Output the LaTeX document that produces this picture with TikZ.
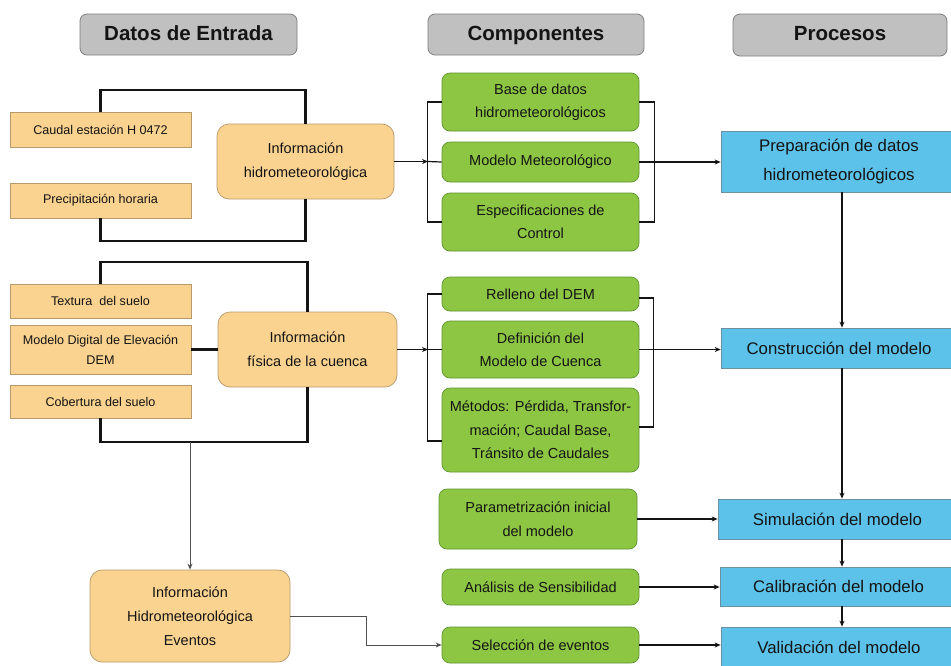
\documentclass[tikz,border=0pt]{standalone}
\usepackage{fontspec}
\setmainfont{Liberation Sans}
\usetikzlibrary{arrows.meta}
\definecolor{hdrfill}{HTML}{C0C0C0}
\definecolor{hdrline}{HTML}{7F7F7F}
\definecolor{orfill}{HTML}{FBD390}
\definecolor{orline}{HTML}{B8996A}
\definecolor{grfill}{HTML}{8DC643}
\definecolor{grline}{HTML}{5E962E}
\definecolor{blfill}{HTML}{5CC2E9}
\definecolor{blline}{HTML}{6E8FA0}
\definecolor{txt}{HTML}{141414}
\definecolor{wire}{HTML}{141414}
\definecolor{thinwire}{HTML}{505050}
\tikzset{
  base/.style={draw, inner sep=0pt, align=center, text=txt},
  hdr/.style={base, fill=hdrfill, draw=hdrline, line width=0.8pt, rounded corners=7pt,
    text height=15pt, text depth=4pt,
    font=\fontsize{20.5}{24}\selectfont\bfseries},
  obox/.style={base, fill=orfill, draw=orline, line width=0.7pt,
    font=\fontsize{12.6}{20}\selectfont},
  oinfo/.style={obox, rounded corners=12pt, font=\fontsize{14.5}{24}\selectfont},
  gbox/.style={base, fill=grfill, draw=grline, line width=0.7pt, rounded corners=8pt,
    font=\fontsize{14.5}{23.5}\selectfont},
  bbox/.style={base, fill=blfill, draw=blline, line width=0.7pt,
    font=\fontsize{16.8}{29}\selectfont},
  wire/.style={draw=wire, line width=2.2pt},
  branch/.style={draw=wire, line width=1.2pt},
  flow/.style={draw=wire, line width=1.6pt, -{Stealth[length=6pt,width=5pt]}},
  thinflow/.style={draw=thinwire, line width=0.9pt, -{Stealth[length=6pt,width=5pt]}},
}
\begin{document}
\begin{tikzpicture}[x=1pt, y=-1pt]
\useasboundingbox (0,0) rectangle (951,665);
\fill[white] (0,0) rectangle (951,665);

% column headers
\node[hdr, minimum width=217pt, minimum height=41pt] (hDatos) at (188.5,34.5) {Datos de Entrada};
\node[hdr, minimum width=216pt, minimum height=41pt] (hComp) at (536,34.5) {Componentes};
\node[hdr, minimum width=214pt, minimum height=42pt] (hProc) at (840,35) {Procesos};

% input data
\node[obox, minimum width=181pt, minimum height=35pt] (caudal) at (100.5,129.5) {Caudal estación H 0472};
\node[obox, minimum width=181pt, minimum height=35pt] (precip) at (100.5,200.5) {Precipitación horaria};
\node[oinfo, minimum width=177pt, minimum height=75pt] (infoH) at (305.5,161.5) {Información\\hidrometeorológica};

\node[obox, minimum width=181pt, minimum height=34pt] (textura) at (100.5,301) {Textura\ \ del suelo};
\node[obox, minimum width=181pt, minimum height=49pt] (dem) at (100.5,349.5) {Modelo Digital de Elevación\\DEM};
\node[obox, minimum width=181pt, minimum height=33pt] (cobert) at (100.5,401.5) {Cobertura del suelo};
\node[oinfo, minimum width=179pt, minimum height=75pt] (infoF) at (307.5,349.5) {Información\\física de la cuenca};

\node[oinfo, minimum width=200pt, minimum height=92pt] (infoE) at (190,616) {Información\\Hidrometeorológica\\Eventos};

% components
\node[gbox, minimum width=197pt, minimum height=58pt] (bdatos) at (540.5,102) {Base de datos\\hidrometeorológicos};
\node[gbox, minimum width=197pt, minimum height=40pt] (meteo) at (540.5,162) {Modelo Meteorológico};
\node[gbox, minimum width=197pt, minimum height=58pt] (espec) at (540.5,222) {Especificaciones de\\Control};

\node[gbox, minimum width=197pt, minimum height=34pt] (relleno) at (540.5,294) {Relleno del DEM};
\node[gbox, minimum width=197pt, minimum height=57pt] (defin) at (540.5,349.5) {Definición del\\Modelo de Cuenca};
\node[gbox, minimum width=197pt, minimum height=84pt] (metodos) at (540.5,430) {Métodos: Pérdida, Transfor-\\mación; Caudal Base,\\Tránsito de Caudales};

\node[gbox, minimum width=198pt, minimum height=60pt] (param) at (538,519) {Parametrización inicial\\del modelo};
\node[gbox, minimum width=197pt, minimum height=36pt] (analisis) at (540.5,587) {Análisis de Sensibilidad};
\node[gbox, minimum width=197pt, minimum height=36pt] (seleccion) at (540.5,645) {Selección de eventos};

% processes (boxes run past the right edge)
\node[bbox, minimum width=236pt, minimum height=61pt] (prep) at (839,161.5) {Preparación de datos\\hidrometeorológicos};
\node[bbox, minimum width=236pt, minimum height=40pt] (constr) at (839,348) {Construcción del modelo};
\node[bbox, minimum width=239pt, minimum height=40pt] (simul) at (837.5,519) {Simulación del modelo};
\node[bbox, minimum width=237pt, minimum height=39pt] (calib) at (838.5,586.5) {Calibración del modelo};
\node[bbox, minimum width=236pt, minimum height=40pt] (valid) at (839,647) {Validación del modelo};

% hydrometeorological inputs bracket
\draw[wire] (caudal.north) -- ++(0,-22) -| (infoH.north);
\draw[wire] (precip.south) -- ++(0,23) -| (infoH.south);
\coordinate (jH) at (428,161.5);
\draw[flow] (infoH.east) -- (jH);
\draw[branch] (bdatos.west) -- ++(-14,0) |- (espec.west);
\draw[branch] (meteo.west) -- (jH);
\draw[branch] (bdatos.east) -- ++(15,0) |- (espec.east);
\draw[flow] (meteo.east) -- (meteo.east -| prep.west);

% physical basin inputs bracket
\draw[wire] (textura.north) -- ++(0,-22) -| (infoF.north);
\draw[wire] (cobert.south) -- ++(0,24) coordinate (bb) -| (infoF.south);
\draw[wire] (dem.east) -- (dem.east -| infoF.west);
\coordinate (jF) at (428,349.5);
\draw[flow] (infoF.east) -- (jF);
\draw[branch] (relleno.west) -- ++(-14,0) |- ([yshift=-11pt]metodos.west);
\draw[branch] (defin.west) -- (jF);
\draw[branch] ([yshift=-4pt]relleno.east) -- ++(14,0) |- ([yshift=3pt]metodos.east);
\draw[flow] (defin.east) -- (defin.east -| constr.west);

% events branch
\draw[thinflow] (infoE.north |- bb) -- (infoE.north);
\draw[thinflow] (infoE.east) -- ++(76,0) |- (seleccion.west);

% components to processes
\draw[flow] (param.east) -- (param.east -| simul.west);
\draw[flow] (analisis.east) -- (analisis.east -| calib.west);
\draw[flow] (seleccion.east) -- (seleccion.east -| valid.west);

% process chain
\draw[flow] ([xshift=3pt]prep.south) -- ([xshift=3pt]constr.north);
\draw[flow] ([xshift=3pt]constr.south) -- ([xshift=4.5pt]simul.north);
\draw[flow] ([xshift=4.5pt]simul.south) -- ([xshift=3.5pt]calib.north);
\draw[flow] ([xshift=3.5pt]calib.south) -- ([xshift=3pt]valid.north);
\end{tikzpicture}
\end{document}
